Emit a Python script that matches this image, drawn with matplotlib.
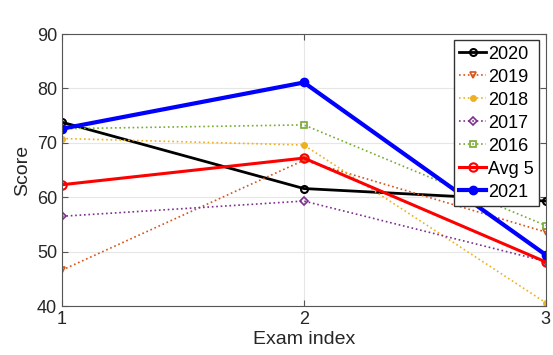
import numpy as np
import matplotlib.pyplot as plt

plt.rcParams['font.family'] = ['Liberation Sans', 'DejaVu Sans']

# Scores per exam for each cohort
exams = [1, 2, 3]
s2020 = [73.8, 61.6, 59.3]
s2019 = [46.6, 66.8, 53.6]
s2018 = [70.8, 69.6, 40.6]
s2017 = [56.5, 59.3, 48.2]
s2016 = [72.6, 73.3, 54.8]
avg5 = [62.3, 67.2, 48.1]
s2021 = [72.6, 81.1, 49.4]

fig = plt.figure(figsize=(5.53, 3.55), dpi=100)
ax = fig.add_axes([0.112, 0.138, 0.875, 0.766])

ax.plot(exams, s2020, '-o', color='black', lw=2, ms=5, mfc='none', mew=1.5, label='2020')
ax.plot(exams, s2019, ':v', color='#D95319', lw=1.2, ms=5, mfc='none', mew=1.2, label='2019')
ax.plot(exams, s2018, ':o', color='#EDB120', lw=1.2, ms=4, label='2018')
ax.plot(exams, s2017, ':D', color='#7E2F8E', lw=1.2, ms=4, mfc='none', mew=1.2, label='2017')
ax.plot(exams, s2016, ':s', color='#77AC30', lw=1.2, ms=4, mfc='none', mew=1.2, label='2016')
ax.plot(exams, avg5, '-o', color='red', lw=2.2, ms=6, mfc='none', mew=1.5, label='Avg 5')
ax.plot(exams, s2021, '-o', color='blue', lw=3, ms=6, label='2021')

ax.set_xlim(1, 3)
ax.set_ylim(40, 90)
ax.set_xticks([1, 2, 3])
ax.set_yticks(range(40, 91, 10))
ax.grid(True, color='#e6e6e6', lw=0.8)
ax.set_axisbelow(True)
ax.tick_params(direction='in', labelsize=13, length=4, top=True, right=True,
               color='#555555', labelcolor='#262626')
for sp in ax.spines.values():
    sp.set_color('#555555')
ax.set_xlabel('Exam index', fontsize=14, labelpad=2, color='#262626')
ax.set_ylabel('Score', fontsize=14, labelpad=4, color='#262626')

leg = ax.legend(loc='upper right', fontsize=13, fancybox=False, framealpha=1,
                edgecolor='#333333', handlelength=1.45, handletextpad=0.15,
                labelspacing=0.33, borderpad=0.3, borderaxespad=0.35)
leg.get_frame().set_linewidth(1.0)

fig.savefig('out.png', dpi=100)
